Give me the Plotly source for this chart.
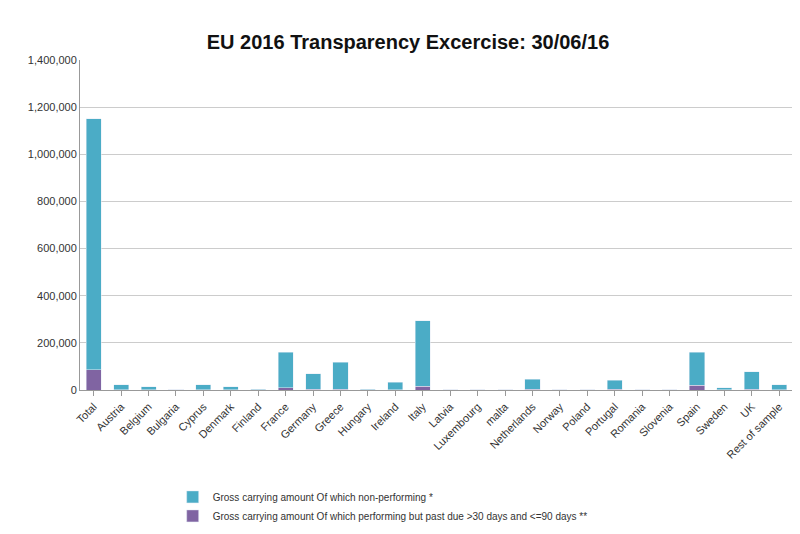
import plotly.graph_objects as go

categories = ["Total","Austria","Belgium","Bulgaria","Cyprus","Denmark","Finland","France","Germany","Greece",
              "Hungary","Ireland","Italy","Latvia","Luxembourg","malta","Netherlands","Norway","Poland","Portugal",
              "Romania","Slovenia","Spain","Sweden","UK","Rest of sample"]
past_due = [85000,2000,1500,200,1500,1500,300,10000,4000,3000,300,2000,15000,100,200,200,3000,300,300,3000,
            100,200,20000,1000,4000,2000]
non_performing = [1065000,20000,13000,1500,20000,13000,2500,150000,66000,115000,2500,31000,278000,800,1800,1800,
                  42000,1700,1700,39000,900,1800,140000,9000,74000,20000]

fig = go.Figure()
fig.add_bar(x=categories, y=past_due, marker_color="#8064A2",
            name="Gross carrying amount Of which performing but past due >30 days and <=90 days **")
fig.add_bar(x=categories, y=non_performing, marker_color="#4BACC6",
            name="Gross carrying amount Of which non-performing *")
fig.update_layout(
    barmode="stack", bargap=0.45, width=800, height=534,
    paper_bgcolor="white", plot_bgcolor="white",
    font=dict(family="Liberation Sans, Arial", size=11, color="#333"),
    title=dict(text="<b>EU 2016 Transparency Excercise: 30/06/16</b>", x=0.5, y=0.95, xanchor="center",
               font=dict(size=20, color="#111")),
    margin=dict(l=72, r=15, t=52, b=141),
    legend=dict(orientation="v", x=0.13, y=-0.28, yanchor="top", traceorder="reversed",
                font=dict(size=10), tracegroupgap=12),
    xaxis=dict(tickangle=-45, showline=True, linecolor="#999", ticks="outside", tickcolor="#999"),
    yaxis=dict(range=[0,1400000], dtick=200000, tickformat=",", gridcolor="#ccc",
               showline=True, linecolor="#999", zeroline=False),
)
fig.write_html("out.html")
